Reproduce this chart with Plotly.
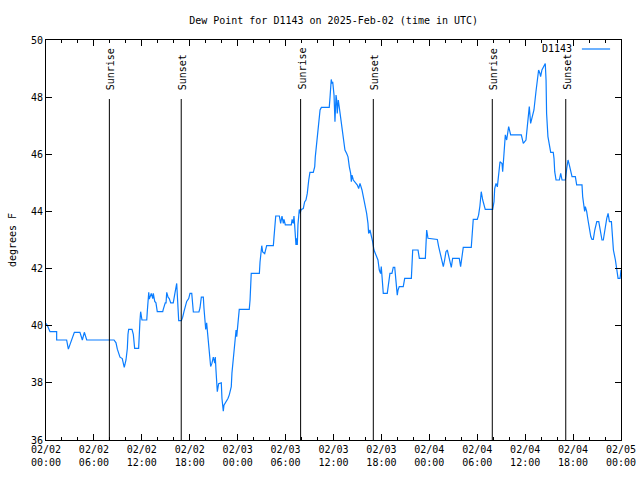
import pandas as pd
import plotly.graph_objects as go

# ---- data ----
start_time = "2025-02-02 00:00"
minutes = [0, 11, 30, 80, 80, 155, 168, 193, 213, 255, 273, 288, 306, 511, 526, 536, 546, 556, 573, 588,
           601, 611, 616, 621, 646, 656, 666, 696, 706, 711, 721, 757, 761, 766, 772, 776, 791, 802, 806, 817,
           826, 836, 877, 881, 887, 896, 902, 907, 917, 926, 937, 956, 969, 977, 982, 986, 992, 997, 1017, 1027,
           1037, 1047, 1057, 1072, 1082, 1095, 1099, 1107, 1149, 1157, 1167, 1182, 1187, 1192, 1200, 1207, 1212, 1222, 1227, 1237,
           1247, 1257, 1268, 1272, 1277, 1282, 1287, 1297, 1317, 1322, 1327, 1332, 1337, 1352, 1367, 1377, 1392, 1397, 1407, 1418,
           1428, 1433, 1437, 1448, 1452, 1527, 1533, 1542, 1603, 1608, 1613, 1621, 1628, 1643, 1658, 1708, 1713, 1718, 1726, 1753,
           1763, 1773, 1783, 1788, 1798, 1843, 1849, 1858, 1863, 1868, 1873, 1878, 1883, 1888, 1893, 1903, 1908, 1918, 1933, 1943,
           1953, 1963, 1974, 1983, 2008, 2019, 2023, 2034, 2044, 2054, 2059, 2069, 2128, 2134, 2139, 2143, 2149, 2154, 2164, 2171,
           2179, 2184, 2188, 2196, 2203, 2209, 2218, 2224, 2229, 2234, 2246, 2259, 2269, 2279, 2289, 2294, 2299, 2309, 2319, 2339,
           2349, 2359, 2374, 2384, 2399, 2409, 2419, 2424, 2434, 2444, 2454, 2464, 2474, 2484, 2494, 2504, 2514, 2519, 2529, 2534,
           2564, 2574, 2584, 2599, 2609, 2620, 2630, 2635, 2639, 2645, 2654, 2684, 2695, 2745, 2750, 2755, 2795, 2805, 2850, 2855,
           2860, 2870, 2940, 2950, 2960, 2970, 2985, 2995, 3005, 3015, 3025, 3035, 3045, 3055, 3105, 3115, 3125, 3135, 3195, 3200,
           3210, 3240, 3250, 3260, 3270, 3281, 3291, 3300, 3356, 3366, 3371, 3381, 3391, 3401, 3411, 3426, 3431, 3441, 3451, 3461,
           3476, 3491, 3571, 3586, 3606, 3616, 3626, 3631, 3641, 3651, 3666, 3681, 3691, 3701, 3711, 3716, 3726, 3731, 3741, 3751,
           3757, 3761, 3771, 3781, 3792, 3811, 3817, 3822, 3832, 3857, 3867, 3877, 3902, 3912, 3922, 3932, 3942, 3952, 3977, 3987,
           4027, 4032, 4042, 4047, 4052, 4062, 4072, 4082, 4093, 4102, 4112, 4123, 4138, 4153, 4162, 4177, 4187, 4198, 4213, 4223,
           4233, 4248, 4253, 4263, 4278, 4288, 4298, 4313, 4318, 4320]
dew_point = [40.08, 40.0, 39.79, 39.79, 39.5, 39.5, 39.18, 39.5, 39.77, 39.77, 39.5, 39.77, 39.5, 39.5, 39.4, 39.18, 39.0, 38.9, 38.85, 38.54,
             38.8, 39.2, 39.7, 39.87, 39.87, 39.7, 39.21, 39.21, 40.18, 40.49, 40.2, 40.2, 40.5, 40.9, 41.17, 40.93, 41.13, 40.95, 41.13, 40.85,
             40.8, 40.49, 40.49, 40.57, 40.7, 40.8, 40.8, 41.17, 41.0, 40.95, 40.8, 40.8, 41.15, 41.35, 41.48, 41.13, 40.49, 40.18, 40.18, 40.3,
             40.5, 40.72, 40.85, 40.95, 41.13, 41.13, 40.95, 40.48, 40.48, 40.62, 41.0, 41.0, 40.6, 40.2, 39.87, 40.1, 39.87, 39.4, 39.05, 38.57,
             38.69, 38.9, 38.69, 38.9, 38.45, 38.0, 37.69, 37.97, 38.0, 37.45, 37.22, 37.01, 37.22, 37.33, 37.45, 37.58, 37.87, 38.34, 38.92, 39.57,
             39.85, 39.62, 39.85, 40.2, 40.57, 40.57, 40.9, 41.83, 41.83, 42.23, 42.58, 42.8, 42.58, 42.52, 42.8, 42.8, 43.1, 43.58, 43.84, 43.84,
             43.58, 43.84, 43.58, 43.72, 43.53, 43.53, 43.72, 43.58, 43.84, 43.53, 43.06, 42.83, 43.06, 42.83, 43.53, 44.07, 43.93, 44.07, 44.1, 44.33,
             44.4, 44.63, 45.1, 45.37, 45.37, 45.57, 45.9, 46.38, 46.85, 47.37, 47.55, 47.64, 47.64, 48.0, 48.4, 48.62, 48.48, 48.54, 48.07, 47.14,
             48.07, 47.9, 47.43, 47.9, 47.66, 47.43, 47.26, 47.02, 46.79, 46.44, 46.15, 46.03, 45.91, 45.56, 45.33, 45.04, 45.27, 45.1, 45.04, 44.92,
             44.8, 44.98, 44.75, 44.52, 44.28, 43.93, 43.58, 43.23, 43.35, 43.17, 42.94, 42.65, 42.53, 42.47, 42.3, 41.95, 41.83, 42.07, 41.6, 41.13,
             41.13, 41.6, 41.83, 41.83, 42.04, 42.04, 41.6, 41.25, 41.07, 41.25, 41.37, 41.37, 41.66, 41.66, 42.18, 42.65, 42.65, 42.36, 42.36, 42.77,
             43.35, 43.06, 43.02, 42.77, 42.59, 42.42, 42.07, 42.3, 42.59, 42.65, 42.48, 42.24, 42.04, 42.36, 42.36, 42.07, 42.42, 42.74, 42.74, 43.23,
             43.72, 43.72, 43.87, 44.19, 44.69, 44.4, 44.17, 44.07, 44.07, 44.34, 44.8, 44.98, 44.86, 45.45, 45.74, 45.68, 45.39, 46.03, 46.68, 46.5,
             46.97, 46.68, 46.68, 46.38, 46.5, 46.97, 47.38, 47.67, 47.08, 47.32, 47.55, 48.19, 48.6, 48.95, 48.83, 48.72, 48.95, 49.01, 49.1, 49.18,
             48.6, 47.43, 46.62, 46.27, 46.07, 46.07, 45.84, 45.39, 45.1, 45.1, 45.33, 45.1, 45.1, 45.5, 45.8, 45.62, 45.39, 45.22, 45.22, 44.93,
             44.93, 44.52, 44.17, 44.0, 44.17, 44.0, 43.7, 43.41, 43.12, 43.02, 43.02, 43.35, 43.64, 43.64, 43.35, 43.0, 43.0, 43.35, 43.76, 43.93,
             43.64, 43.64, 43.35, 42.65, 42.3, 41.95, 41.66, 41.66, 41.95, 41.95]
sunrise_times = ["2025-02-02 07:56", "2025-02-03 07:53", "2025-02-04 07:53"]
sunset_times = ["2025-02-02 16:56", "2025-02-03 16:59", "2025-02-04 17:05"]
x_range = ["2025-02-02 00:00", "2025-02-05 00:00"]
y_range = [36, 50]
series_name = "D1143"
title_text = "Dew Point for D1143 on 2025-Feb-02 (time in UTC)"
y_title = "degrees F"

times = pd.Timestamp(start_time) + pd.to_timedelta(minutes, unit="m")

FONT = "DejaVu Sans Mono"
LINE_COLOR = "rgb(10,125,255)"

fig = go.Figure()
fig.add_trace(go.Scatter(x=times, y=dew_point, mode="lines", name=series_name,
                         line=dict(color=LINE_COLOR, width=1.2), showlegend=False))

shapes = []
annotations = []
for label, tlist in (("Sunrise", sunrise_times), ("Sunset", sunset_times)):
    for t in tlist:
        shapes.append(dict(type="line", xref="x", yref="y domain", x0=t, x1=t, y0=0, y1=0.8525,
                           line=dict(color="black", width=1)))
        annotations.append(dict(text=label, xref="x", yref="y domain", x=t, y=0.87,
                                xanchor="center", yanchor="bottom", textangle=-90, showarrow=False,
                                xshift=1, font=dict(family=FONT, size=10, color="black")))

# legend drawn gnuplot-style: text then sample line
annotations.append(dict(text=series_name, xref="paper", yref="paper", x=0.919, y=0.9775,
                        xanchor="right", yanchor="middle", showarrow=False,
                        font=dict(family=FONT, size=10, color="black")))
shapes.append(dict(type="line", xref="paper", yref="paper", x0=0.932, x1=0.981, y0=0.9775, y1=0.9775,
                   line=dict(color=LINE_COLOR, width=1.2)))

fig.update_layout(
    width=640, height=480,
    margin=dict(l=46, r=19, t=40, b=40, autoexpand=False),
    paper_bgcolor="white", plot_bgcolor="white",
    font=dict(family=FONT, size=10, color="black"),
    title=dict(text=title_text, x=0.5213, xanchor="center", y=1 - 20 / 480, yanchor="middle",
               font=dict(family=FONT, size=10, color="black")),
    shapes=shapes, annotations=annotations,
    showlegend=False,
)
fig.update_xaxes(
    type="date", range=x_range, dtick=6 * 3600 * 1000, tick0=x_range[0], automargin=False,
    tickformat="%m/%d<br>%H:%M", ticks="inside", ticklen=6, tickcolor="black",
    showline=True, linecolor="black", linewidth=1, mirror="allticks", showgrid=False, zeroline=False,
    minor=dict(ticks="inside", ticklen=3, dtick=2 * 3600 * 1000, tickcolor="black", showgrid=False),
    tickfont=dict(family=FONT, size=10, color="black"),
)
fig.update_yaxes(
    range=y_range, dtick=2, ticks="inside", ticklen=6, tickcolor="black", automargin=False,
    showline=True, linecolor="black", linewidth=1, mirror="allticks", showgrid=False, zeroline=False,
    tickfont=dict(family=FONT, size=10, color="black"),
    title=dict(text=y_title, font=dict(family=FONT, size=10, color="black"), standoff=12),
)

fig.write_html("out.html")
